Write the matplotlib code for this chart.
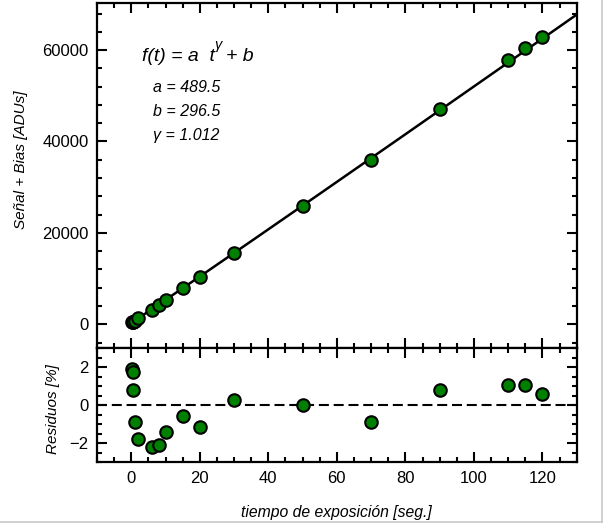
import numpy as np
import matplotlib
matplotlib.use("Agg")
import matplotlib.pyplot as plt
from matplotlib.ticker import MultipleLocator
from matplotlib.lines import Line2D

plt.rcParams['font.family'] = ['Liberation Sans', 'DejaVu Sans']

# Data
t = [0.2, 0.5, 0.5, 1, 2, 6, 8, 10, 15, 20, 30, 50, 70, 90, 110, 115, 120]
signal = [400, 548, 543, 779, 1261, 3224, 4220, 5254, 7835, 10329, 15635,
          25958, 36027, 47168, 57861, 60535, 62858]
residuals = [1.91, 1.73, 0.78, -0.90, -1.79, -2.20, -2.10, -1.39, -0.57, -1.13,
             0.26, 0.03, -0.90, 0.78, 1.04, 1.08, 0.56]
a, b, gamma = 489.5, 296.5, 1.012

green = '#008000'
W, H = 613, 526
fig = plt.figure(figsize=(W / 100, H / 100), dpi=100)

left = 97 / W
right = 576.7 / W
AW = 576.7 - 97
ax1 = fig.add_axes([left, 1 - 348 / H, right - left, (348 - 3) / H])
ax2 = fig.add_axes([left, 1 - 462.3 / H, right - left, (462.3 - 348) / H], sharex=ax1)

tt = np.linspace(0, 132, 300)
ax1.plot(tt, a * tt ** gamma + b, color='black', lw=1.8, zorder=2)
ax1.plot(t, signal, 'o', ms=9, mfc=green, mec='black', mew=1.5, zorder=3)
ax1.set_xlim(-10, 130)
ax1.set_ylim(-5200, 70300)
ax1.yaxis.set_major_locator(MultipleLocator(20000))
ax1.yaxis.set_minor_locator(MultipleLocator(4000))

ax2.axhline(0, color='black', lw=1.5, ls=(0, (4.8, 2.3)), zorder=2)
ax2.plot(t, residuals, 'o', ms=9, mfc=green, mec='black', mew=1.5, zorder=3)
ax2.set_ylim(-3, 3)
ax2.yaxis.set_major_locator(MultipleLocator(2))
ax2.yaxis.set_minor_locator(MultipleLocator(0.5))
ax2.xaxis.set_major_locator(MultipleLocator(20))
ax2.xaxis.set_minor_locator(MultipleLocator(5))

for ax in (ax1, ax2):
    for s in ax.spines.values():
        s.set_linewidth(1.6)
    ax.tick_params(which='both', direction='in', top=True, right=True, width=1.5,
                   labelsize=12, colors='black')
    ax.tick_params(which='major', length=7, pad=6)
    ax.tick_params(which='minor', length=3.5)

ax1.tick_params(labelbottom=False)
ax1.set_ylabel('Señal + Bias [ADUs]', fontsize=11, style='italic')
ax1.yaxis.set_label_coords((28 - 97) / AW, 0.545)
ax2.set_ylabel('Residuos [%]', fontsize=11, style='italic')
ax2.yaxis.set_label_coords((60 - 97) / AW, 0.47)
ax2.set_xlabel('tiempo de exposición [seg.]', fontsize=11.3, style='italic', labelpad=14)


def fx(px):
    return (px - 97) / AW


def fy(py):
    return (348 - py) / 345


ax1.text(fx(142), fy(61), 'f(t) = a  t', transform=ax1.transAxes,
         fontsize=14, style='italic', va='baseline', ha='left')
ax1.text(fx(214.5), fy(49), 'γ', transform=ax1.transAxes,
         fontsize=10.5, style='italic', va='baseline', ha='left')
ax1.text(fx(225.5), fy(61), '+ b', transform=ax1.transAxes,
         fontsize=14, style='italic', va='baseline', ha='left')
ax1.text(fx(153), fy(91.7), 'a = 489.5', transform=ax1.transAxes, fontsize=11.5,
         style='italic', va='baseline')
ax1.text(fx(153), fy(116), 'b = 296.5', transform=ax1.transAxes, fontsize=11.5,
         style='italic', va='baseline')
ax1.text(fx(153), fy(140), 'γ = 1.012', transform=ax1.transAxes, fontsize=11.5,
         style='italic', va='baseline')

# light frame lines of the original image
fig.add_artist(Line2D([0, 602 / W], [1 - 522 / H, 1 - 522 / H], color='#c8c8c8', lw=1.2,
                      transform=fig.transFigure))
fig.add_artist(Line2D([602 / W, 602 / W], [1 - 522 / H, 1], color='#c8c8c8', lw=1.2,
                      transform=fig.transFigure))

fig.savefig('out.png', dpi=100)
